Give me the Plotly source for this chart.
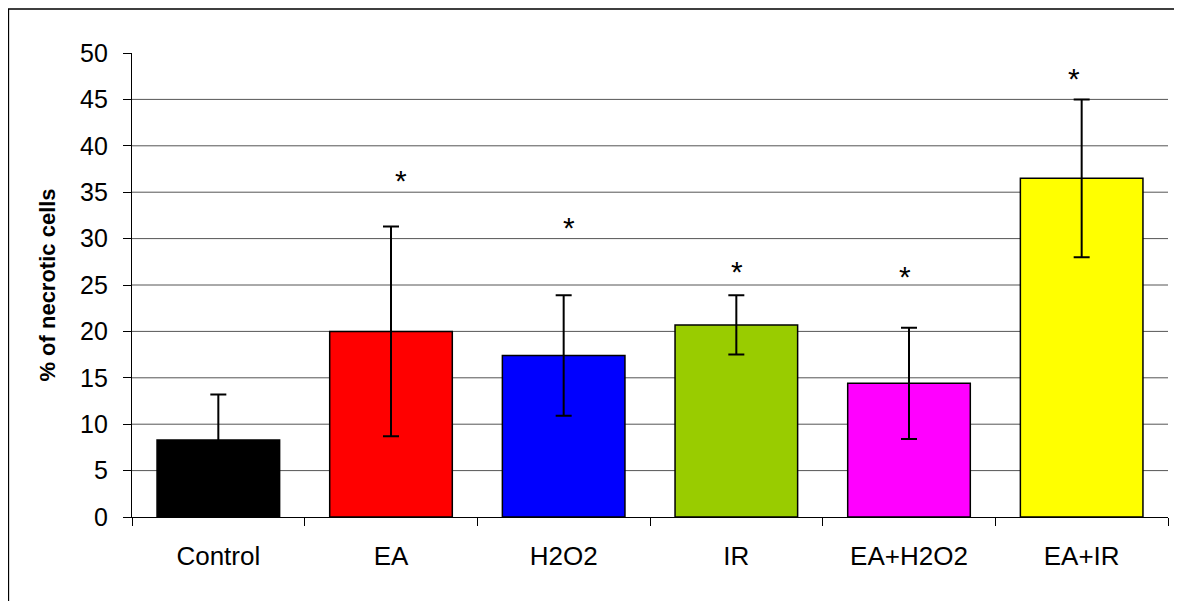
import plotly.graph_objects as go

categories = ["Control", "EA", "H2O2", "IR", "EA+H2O2", "EA+IR"]
values = [8.3, 20.0, 17.4, 20.7, 14.4, 36.5]
errors = [4.9, 11.3, 6.5, 3.2, 6.0, 8.5]
star_y = [None, 37.0, 31.9, 27.2, 26.7, 48.0]
colors = ["#000000", "#FF0000", "#0000FF", "#99CC00", "#FF00FF", "#FFFF00"]
grid_vals = [5, 10, 15, 20, 25, 30, 35, 40, 45]
y_ticks = [0, 5, 10, 15, 20, 25, 30, 35, 40, 45, 50]
star_xshift = [0, 10, 5, 1, -4, -8]

FONT = "Liberation Sans, Arial, sans-serif"

fig = go.Figure()
fig.add_trace(go.Bar(
    x=categories, y=values,
    marker=dict(color=colors, line=dict(color="#000000", width=1.5)),
    width=0.71,
    error_y=dict(type="data", array=errors, visible=True, color="#000000", thickness=2, width=8),
))

annotations = []
for c, s, dx in zip(categories, star_y, star_xshift):
    if s is None:
        continue
    annotations.append(dict(x=c, y=s, xref="x", yref="y", text="*", showarrow=False,
                            font=dict(family=FONT, size=30, color="#000000"),
                            yanchor="middle", yshift=-7, xshift=dx))

shapes = []
for g in grid_vals:
    shapes.append(dict(type="line", xref="paper", yref="y", x0=0, x1=1, y0=g, y1=g,
                       line=dict(color="#555555", width=1), layer="below"))
# outer border
shapes.append(dict(type="rect", xref="paper", yref="paper", x0=-0.1192, x1=1.1, y0=-0.3, y1=1.0948,
                   line=dict(color="#000000", width=1.3), layer="below"))

fig.update_layout(
    width=1174, height=593,
    margin=dict(l=124, r=14, t=45, b=84),
    paper_bgcolor="white", plot_bgcolor="white",
    showlegend=False,
    font=dict(family=FONT, size=25, color="#000000"),
    annotations=annotations,
    shapes=shapes,
)
fig.update_xaxes(
    type="category", showgrid=False, showline=True, linecolor="#000000", linewidth=1.3,
    ticks="outside", tickson="boundaries", ticklen=8, tickcolor="#000000", tickwidth=1.3,
    tickfont=dict(size=26), range=[-0.5, 5.5], ticklabelstandoff=16,
)
fig.update_yaxes(
    range=[0, 50], tickvals=y_ticks, showgrid=False, showline=True, linecolor="#000000", linewidth=1.3,
    ticks="outside", ticklen=8, tickcolor="#000000", tickwidth=1.3, tickfont=dict(size=25),
    zeroline=False, ticklabelstandoff=10,
    title=dict(text="<b>% of necrotic cells</b>", font=dict(size=22), standoff=18),
)

fig.write_html("out.html")
